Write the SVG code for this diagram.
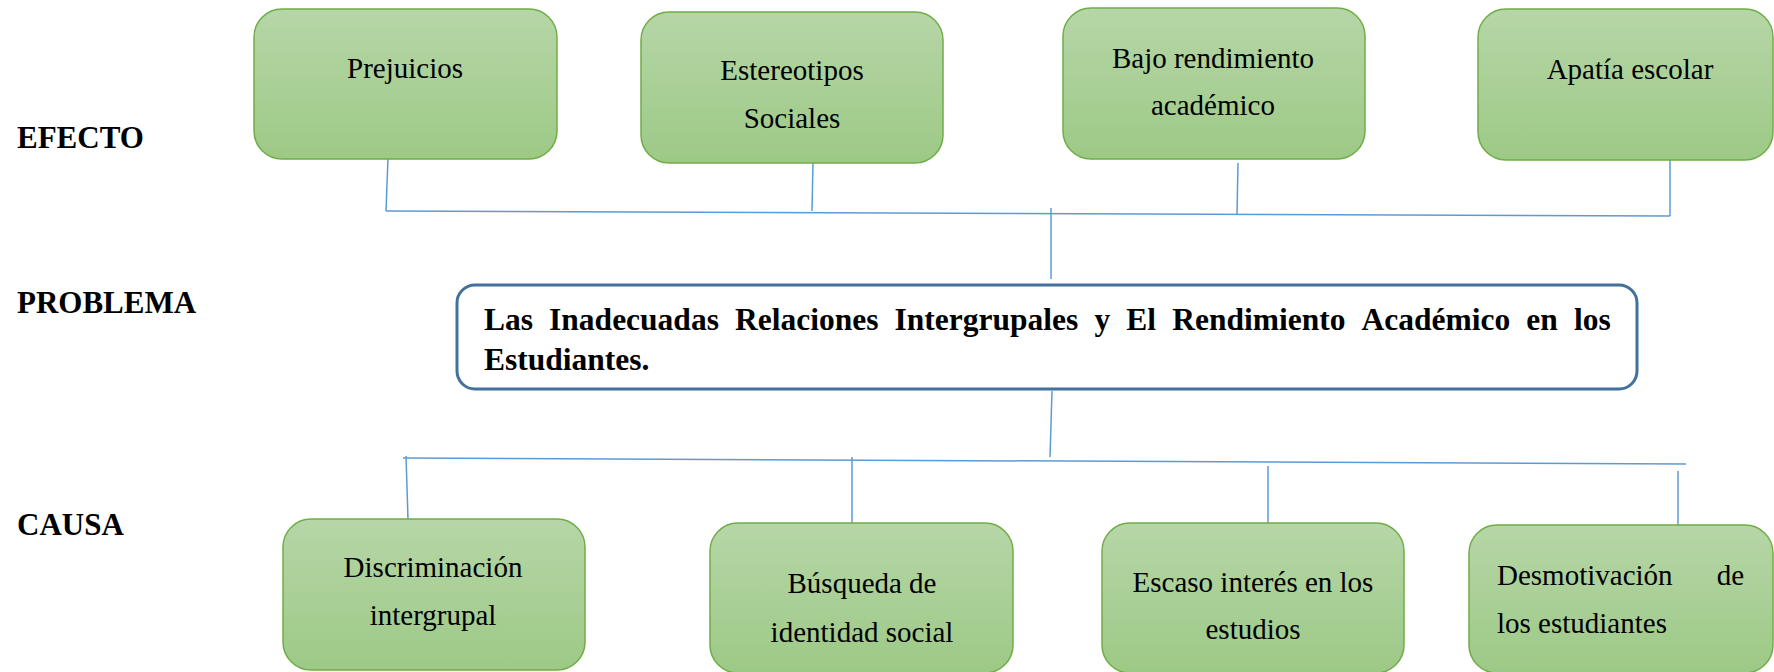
<svg xmlns="http://www.w3.org/2000/svg" width="1774" height="672" viewBox="0 0 1774 672">
<defs>
<linearGradient id="g" x1="0" y1="0" x2="0" y2="1">
<stop offset="0" stop-color="#B6D6A7"/>
<stop offset="1" stop-color="#9DC986"/>
</linearGradient>
<style>
.box{fill:url(#g);stroke:#70AD47;stroke-width:1.5}
.t{font-family:"Liberation Serif","Times New Roman",serif;font-size:29px;fill:#000;text-anchor:middle}
.tl{font-family:"Liberation Serif","Times New Roman",serif;font-size:29px;fill:#000}
.lab{font-family:"Liberation Serif","Times New Roman",serif;font-size:31px;font-weight:bold;fill:#000}
.pb{font-family:"Liberation Serif","Times New Roman",serif;font-size:31.5px;font-weight:bold;fill:#000}
.c{stroke:#5B9BD5;stroke-width:1.5;fill:none}
</style>
</defs>
<rect width="1774" height="672" fill="#fff"/>
<g id="labels">
<text class="lab" x="17" y="148">EFECTO</text>
<text class="lab" x="17" y="313">PROBLEMA</text>
<text class="lab" x="17" y="535">CAUSA</text>
</g>
<g id="connectors">
<line class="c" x1="388" y1="158" x2="386" y2="211"/>
<line class="c" x1="813" y1="162" x2="812" y2="211"/>
<line class="c" x1="1238" y1="163" x2="1237" y2="214"/>
<line class="c" x1="1670" y1="160" x2="1670" y2="216"/>
<line class="c" x1="386" y1="211" x2="1670" y2="216"/>
<line class="c" x1="1051" y1="208" x2="1051" y2="279"/>
<line class="c" x1="1052" y1="391" x2="1050" y2="457"/>
<line class="c" x1="403" y1="458" x2="1686" y2="464"/>
<line class="c" x1="406" y1="456" x2="408" y2="519"/>
<line class="c" x1="852" y1="457" x2="852" y2="523"/>
<line class="c" x1="1268" y1="466" x2="1268" y2="523"/>
<line class="c" x1="1678" y1="471" x2="1678" y2="525"/>
</g>
<g id="n-prejuicios">
<rect class="box" x="254" y="9" width="303" height="150" rx="28"/>
<text class="t" x="405" y="78">Prejuicios</text>
</g>
<g id="n-estereotipos">
<rect class="box" x="641" y="12" width="302" height="151" rx="28"/>
<text class="t" x="792" y="80">Estereotipos</text>
<text class="t" x="792" y="128">Sociales</text>
</g>
<g id="n-bajo">
<rect class="box" x="1063" y="8" width="302" height="151" rx="28"/>
<text class="t" x="1213" y="68">Bajo rendimiento</text>
<text class="t" x="1213" y="115">académico</text>
</g>
<g id="n-apatia">
<rect class="box" x="1478" y="9" width="295" height="151" rx="28"/>
<text class="t" x="1630" y="79">Apatía escolar</text>
</g>
<g id="n-problema">
<rect x="457" y="285" width="1180" height="104" rx="18" fill="#fff" stroke="#41719C" stroke-width="3"/>
<text class="pb" y="330"><tspan x="484">Las</tspan><tspan x="549.1">Inadecuadas</tspan><tspan x="735">Relaciones</tspan><tspan x="894.6">Intergrupales</tspan><tspan x="1094.4">y</tspan><tspan x="1126.3">El</tspan><tspan x="1172.2">Rendimiento</tspan><tspan x="1361.5">Académico</tspan><tspan x="1526.3">en</tspan><tspan x="1573.9">los</tspan></text>
<text class="pb" x="484" y="370">Estudiantes.</text>
</g>
<g id="n-discriminacion">
<rect class="box" x="283" y="519" width="302" height="151" rx="28"/>
<text class="t" x="433" y="577">Discriminación</text>
<text class="t" x="433" y="625">intergrupal</text>
</g>
<g id="n-busqueda">
<rect class="box" x="710" y="523" width="303" height="150" rx="28"/>
<text class="t" x="862" y="593">Búsqueda de</text>
<text class="t" x="862" y="642">identidad social</text>
</g>
<g id="n-escaso">
<rect class="box" x="1102" y="523" width="302" height="150" rx="28"/>
<text class="t" x="1253" y="592">Escaso interés en los</text>
<text class="t" x="1253" y="639">estudios</text>
</g>
<g id="n-desmotivacion">
<rect class="box" x="1469" y="525" width="304" height="148" rx="28"/>
<text class="tl" x="1497" y="585">Desmotivación</text>
<text class="tl" x="1744" y="585" text-anchor="end">de</text>
<text class="tl" x="1497" y="633">los estudiantes</text>
</g>
</svg>
